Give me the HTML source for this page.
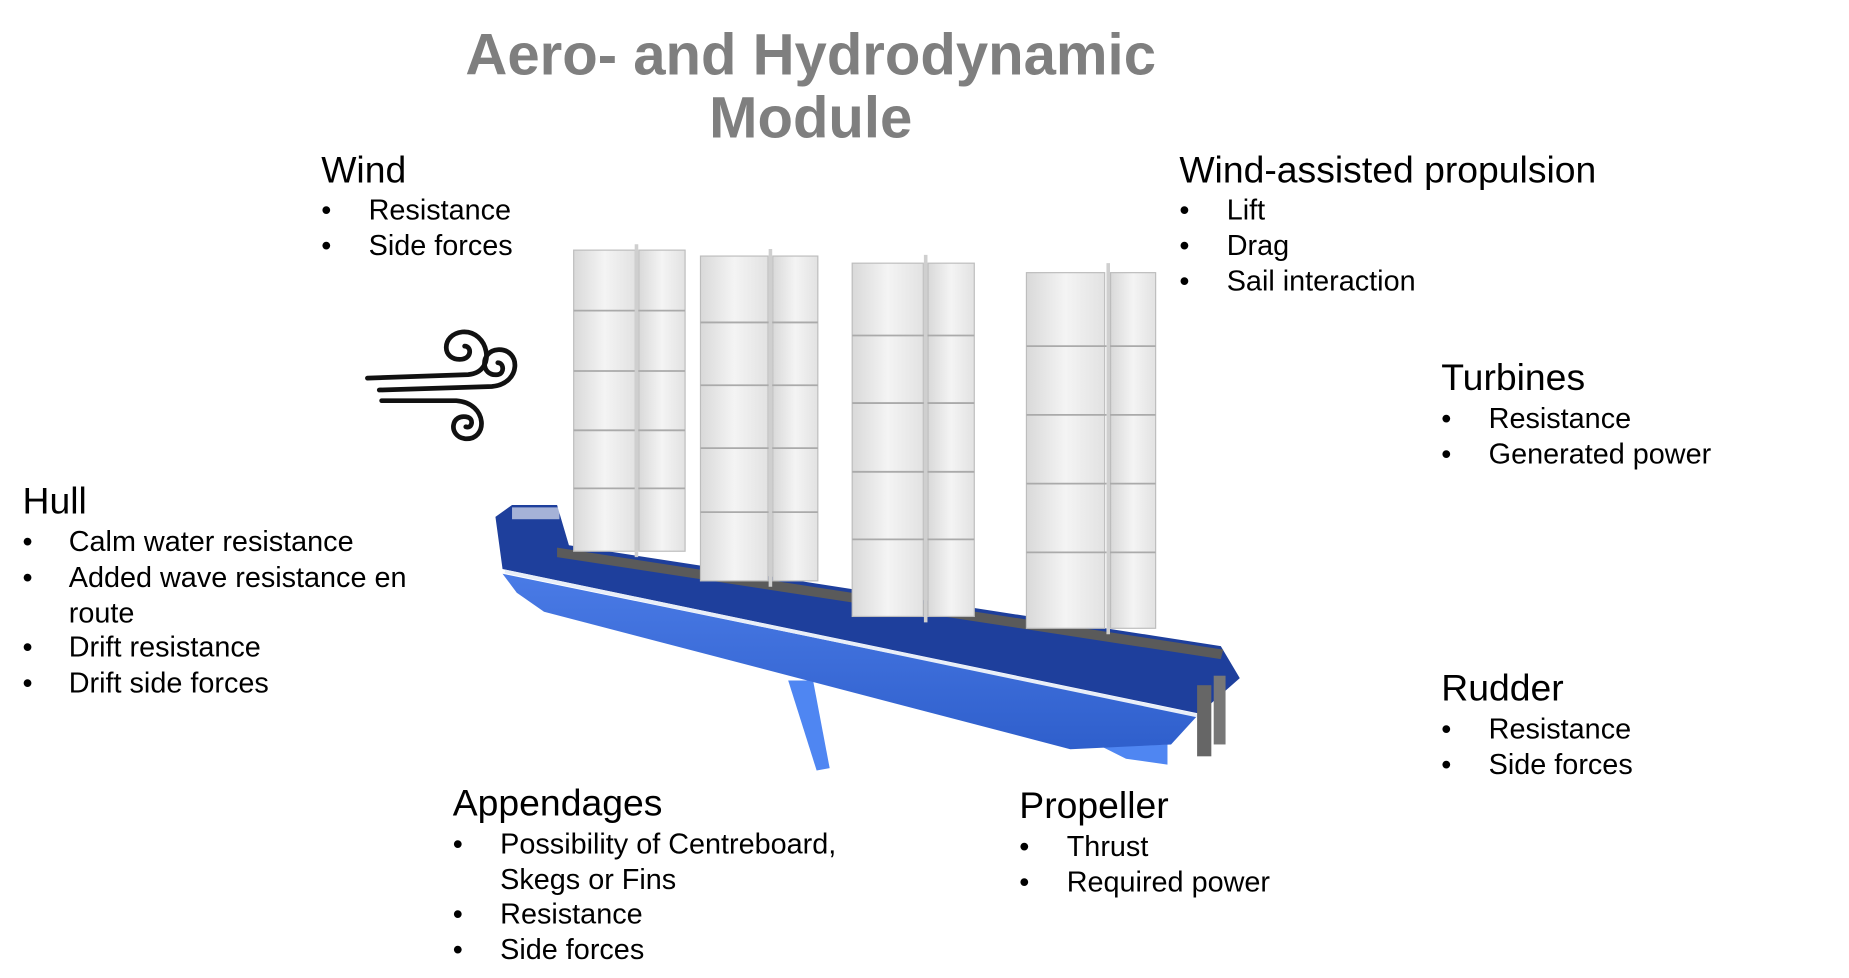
<!DOCTYPE html>
<html><head><meta charset="utf-8"><style>
html,body{margin:0;padding:0;background:#fff;width:1849px;height:978px;overflow:hidden}
svg{display:block}
text{font-family:"Liberation Sans",Arial,sans-serif;fill:#000}
.h{font-size:31.5px}
.b{font-size:24.3px}
.t{font-size:49px;font-weight:bold;fill:#7f7f7f}
</style></head><body>
<svg width="1849" height="978" viewBox="0 0 1560 825" preserveAspectRatio="none">
<defs>
<linearGradient id="sail" x1="0" x2="1" y1="0" y2="0">
<stop offset="0" stop-color="#d9d9d9"/><stop offset="0.5" stop-color="#f4f4f4"/><stop offset="1" stop-color="#e2e2e2"/>
</linearGradient>
<linearGradient id="lh" x1="0" x2="0" y1="0" y2="1">
<stop offset="0" stop-color="#4a7be6"/><stop offset="1" stop-color="#2f5fcc"/>
</linearGradient>
</defs>
<text class="t" x="684" y="63" text-anchor="middle">Aero- and Hydrodynamic</text>
<text class="t" x="684" y="116" text-anchor="middle">Module</text>

<g fill="none" stroke="#111" stroke-linecap="round">
<path d="M310,319 L395,316 C420,314 412,278 390,280 C372,282 372,305 390,303 C398,302 398,292 392,292" stroke-width="4"/>
<path d="M320,329 L415,326 C440,324 440,294 420,295 C405,296 405,318 420,316 C426,315 425,306 420,306" stroke-width="4"/>
<path d="M322,338 L385,338 C412,340 412,372 392,370 C378,368 380,348 395,352 C400,354 398,362 393,360" stroke-width="4"/>
</g>

<polygon points="665,574 686,574 700,648 689,650" fill="#4f86f2"/>
<polygon points="930,630 985,628 985,645 950,640" fill="#4f86f2"/>
<polygon points="424,484 1010,604 988,628 903,632 459,516 436,500" fill="url(#lh)"/>
<polygon points="418,436 432,426 470,426 480,460 1030,545 1046,572 1012,602 424,480" fill="#1e3f9c"/>
<polygon points="470,462 1032,548 1030,556 470,470" fill="#5a5a5a"/>
<line x1="426" y1="482" x2="1012" y2="604" stroke="#e8eef8" stroke-width="3"/>
<rect x="432" y="428" width="40" height="10" fill="#ffffff" opacity="0.6"/>
<rect x="1010" y="578" width="12" height="60" fill="#666"/>
<rect x="1024" y="570" width="10" height="58" fill="#777"/>

<g stroke="#bdbdbd" stroke-width="1">
<rect x="484" y="211" width="52" height="254" fill="url(#sail)"/>
<rect x="539" y="211" width="39" height="254" fill="url(#sail)"/>
<rect x="591" y="216" width="57" height="274" fill="url(#sail)"/>
<rect x="652" y="216" width="38" height="274" fill="url(#sail)"/>
<rect x="719" y="222" width="60" height="298" fill="url(#sail)"/>
<rect x="783" y="222" width="39" height="298" fill="url(#sail)"/>
<rect x="866" y="230" width="66" height="300" fill="url(#sail)"/>
<rect x="937" y="230" width="38" height="300" fill="url(#sail)"/>
</g>
<g stroke="#aaa" stroke-width="1.5">
<path d="M484,262H578M484,313H578M484,363H578M484,412H578"/>
<path d="M591,272H690M591,325H690M591,378H690M591,432H690"/>
<path d="M719,283H822M719,340H822M719,398H822M719,455H822"/>
<path d="M866,292H975M866,350H975M866,408H975M866,466H975"/>
</g>
<g stroke="#cfcfcf" stroke-width="3">
<line x1="537" y1="206" x2="537" y2="470"/>
<line x1="650" y1="210" x2="650" y2="495"/>
<line x1="781" y1="215" x2="781" y2="525"/>
<line x1="935" y1="222" x2="935" y2="535"/>
</g>

<text class="h" x="271" y="154">Wind</text>
<text class="b" x="271" y="185">•</text><text class="b" x="311" y="185">Resistance</text>
<text class="b" x="271" y="215">•</text><text class="b" x="311" y="215">Side forces</text>

<text class="h" x="995" y="154">Wind-assisted propulsion</text>
<text class="b" x="995" y="185">•</text><text class="b" x="1035" y="185">Lift</text>
<text class="b" x="995" y="215">•</text><text class="b" x="1035" y="215">Drag</text>
<text class="b" x="995" y="245">•</text><text class="b" x="1035" y="245">Sail interaction</text>

<text class="h" x="1216" y="329">Turbines</text>
<text class="b" x="1216" y="361">•</text><text class="b" x="1256" y="361">Resistance</text>
<text class="b" x="1216" y="391">•</text><text class="b" x="1256" y="391">Generated power</text>

<text class="h" x="19" y="433">Hull</text>
<text class="b" x="19" y="465">•</text><text class="b" x="58" y="465">Calm water resistance</text>
<text class="b" x="19" y="495">•</text><text class="b" x="58" y="495">Added wave resistance en</text>
<text class="b" x="58" y="525">route</text>
<text class="b" x="19" y="554">•</text><text class="b" x="58" y="554">Drift resistance</text>
<text class="b" x="19" y="584">•</text><text class="b" x="58" y="584">Drift side forces</text>

<text class="h" x="1216" y="591">Rudder</text>
<text class="b" x="1216" y="623">•</text><text class="b" x="1256" y="623">Resistance</text>
<text class="b" x="1216" y="653">•</text><text class="b" x="1256" y="653">Side forces</text>

<text class="h" x="382" y="688">Appendages</text>
<text class="b" x="382" y="720">•</text><text class="b" x="422" y="720">Possibility of Centreboard,</text>
<text class="b" x="422" y="750">Skegs or Fins</text>
<text class="b" x="382" y="779">•</text><text class="b" x="422" y="779">Resistance</text>
<text class="b" x="382" y="809">•</text><text class="b" x="422" y="809">Side forces</text>

<text class="h" x="860" y="690">Propeller</text>
<text class="b" x="860" y="722">•</text><text class="b" x="900" y="722">Thrust</text>
<text class="b" x="860" y="752">•</text><text class="b" x="900" y="752">Required power</text>
</svg>
</body></html>
